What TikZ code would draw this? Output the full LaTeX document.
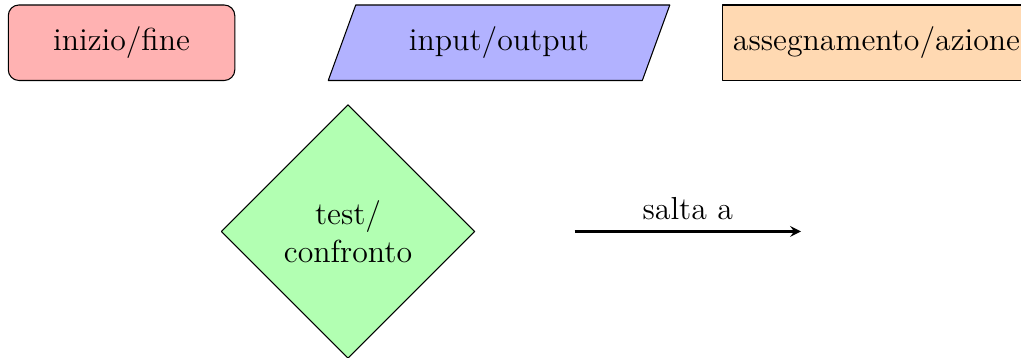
\documentclass[tikz,border=0pt,12pt]{standalone}
\usepackage{tikz}
\usetikzlibrary{shapes.geometric,arrows}

\begin{document}
\begin{tikzpicture}[line join=round,>=stealth,
    startstop/.style={rectangle,rounded corners,minimum width=3cm,minimum height=1cm,align=center,draw=black,fill=red!30},
    io/.style={trapezium,trapezium left angle=70,trapezium right angle=110,minimum width=3cm,minimum height=1cm,align=center,draw=black,fill=blue!30},
    process/.style={rectangle,minimum width=3cm,minimum height=1cm,align=center,draw=black,fill=orange!30},
    decision/.style={diamond,minimum width=3.36cm,minimum height=3.36cm,align=center,draw=black,fill=green!30},
    arrow/.style={thick,->}]
      \useasboundingbox (-1.61,0.566) rectangle (11.914,-4.176);
      \node[startstop] (start) at ( 0,0) {inizio/fine};
      \node[io]        (io)    at ( 5,0) {input/output};
      \node[process]   (proc)  at (10,0) {assegnamento/azione};
      \node[decision]  (dec)   at ( 3,-2.5) {test/\\confronto};
      \coordinate (salta0) at (6,-2.5);
      \coordinate (salta1) at (9,-2.5);
      \draw[arrow] (salta0) -- node[above] {salta a} (salta1);
    \end{tikzpicture}
\end{document}
